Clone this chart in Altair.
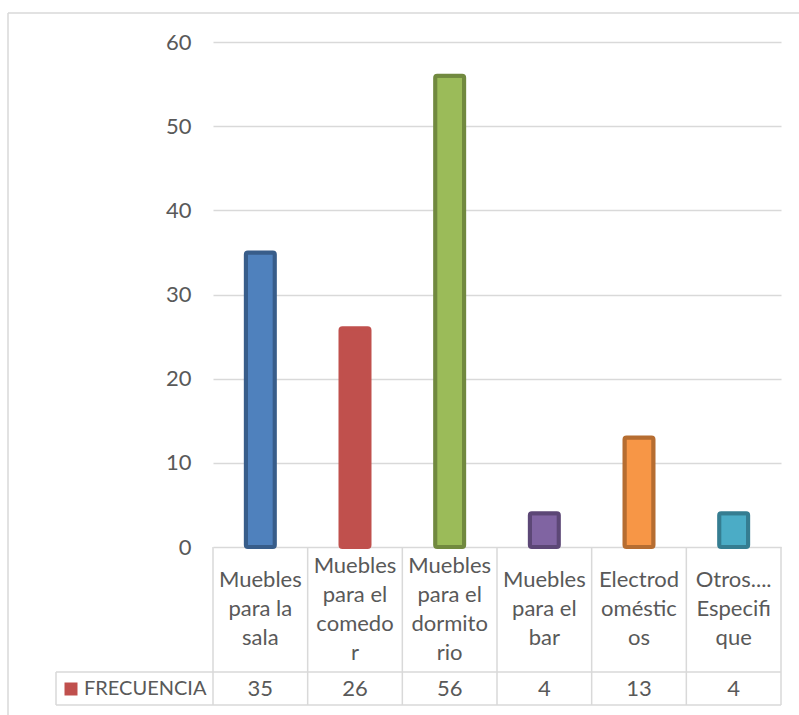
import altair as alt
import pandas as pd

# Survey answers: furniture / appliance categories and how often each was named
categories = [
    "Muebles para la sala",
    "Muebles para el comedor",
    "Muebles para el dormitorio",
    "Muebles para el bar",
    "Electrodomésticos",
    "Otros.... Especifique",
]
# Wrapped text shown in the data-table header cells
label_lines = [
    "Muebles\npara la\nsala",
    "Muebles\npara el\ncomedo\nr",
    "Muebles\npara el\ndormito\nrio",
    "Muebles\npara el\nbar",
    "Electrod\noméstic\nos",
    "Otros....\nEspecifi\nque",
]
frecuencia = [35, 26, 56, 4, 13, 4]
series_name = "FRECUENCIA"

# Office-style palette: fill and darker outline per bar
fill_colors = ["#4F81BD", "#C0504D", "#9BBB59", "#8064A2", "#F79646", "#4BACC6"]
stroke_colors = ["#385D8A", "#C0504D", "#71893F", "#5C4776", "#B66D31", "#357D91"]

W, H = 568, 505
FONT = "Lato"
TXT = "#595959"
GRID = "#D9D9D9"
LINE_H = 29
HEADER_MID = H + 62  # vertical centre of the header row of the table

df = pd.DataFrame({"cat": categories, "label": label_lines, "value": frecuencia})
last = pd.DataFrame({"cat": [categories[-1]]})

x_scale = alt.Scale(domain=categories, paddingInner=0, paddingOuter=0)
x_enc = alt.X("cat:N", scale=x_scale, axis=None, sort=categories)

bars = alt.Chart(df).mark_bar(size=29, strokeWidth=4, cornerRadius=2).encode(
    x=x_enc,
    y=alt.Y(
        "value:Q",
        scale=alt.Scale(domain=[0, 60]),
        axis=alt.Axis(
            values=[0, 10, 20, 30, 40, 50, 60],
            title=None,
            domain=False,
            ticks=False,
            labelFont=FONT,
            labelFontSize=22,
            labelColor=TXT,
            labelPadding=22,
            grid=True,
            gridColor=GRID,
            gridWidth=1.3,
        ),
    ),
    fill=alt.Fill("cat:N", scale=alt.Scale(domain=categories, range=fill_colors), legend=None),
    stroke=alt.Stroke("cat:N", scale=alt.Scale(domain=categories, range=stroke_colors), legend=None),
)

# Data table grid: column separators at each band start, plus the closing line
vlines = alt.Chart(df).mark_rule(color=GRID, strokeWidth=1.5).encode(
    x=alt.X("cat:N", scale=x_scale, axis=None, sort=categories, bandPosition=0),
    y=alt.value(H),
    y2=alt.value(H + 158),
)
vline_end = alt.Chart(last).mark_rule(color=GRID, strokeWidth=1.5).encode(
    x=alt.X("cat:N", scale=x_scale, axis=None, sort=categories, bandPosition=1),
    y=alt.value(H),
    y2=alt.value(H + 158),
)
hline_mid = alt.Chart(df.head(1)).mark_rule(color=GRID, strokeWidth=1.5).encode(
    x=alt.value(-157), x2=alt.value(W), y=alt.value(H + 125)
)
hline_bot = alt.Chart(df.head(1)).mark_rule(color=GRID, strokeWidth=1.5).encode(
    x=alt.value(-157), x2=alt.value(W), y=alt.value(H + 158)
)
vline_key = alt.Chart(df.head(1)).mark_rule(color=GRID, strokeWidth=1.5).encode(
    x=alt.value(-157), y=alt.value(H + 125), y2=alt.value(H + 158)
)

# Outer chart frame (top and left edges)
frame_top = alt.Chart(df.head(1)).mark_rule(color=GRID, strokeWidth=1.5).encode(
    x=alt.value(-205), x2=alt.value(700), y=alt.value(-29)
)
frame_left = alt.Chart(df.head(1)).mark_rule(color=GRID, strokeWidth=1.5).encode(
    x=alt.value(-205), y=alt.value(-29), y2=alt.value(700)
)

# Header labels: centre each wrapped block vertically inside its cell
header_text = (
    alt.Chart(df)
    .transform_calculate(nlines="length(split(datum.label, '\\n'))")
    .transform_calculate(ty=f"{HEADER_MID} - (datum.nlines - 1) * {LINE_H / 2}")
    .mark_text(
        font=FONT, fontSize=22, color=TXT, lineBreak="\n", lineHeight=LINE_H, baseline="middle"
    )
    .encode(x=x_enc, y=alt.Y("ty:Q", scale=None), text="label:N")
)

value_text = alt.Chart(df).mark_text(
    font=FONT, fontSize=22, color=TXT, baseline="middle"
).encode(x=x_enc, y=alt.value(H + 142), text="value:Q")

key_df = pd.DataFrame({"name": [series_name]})
key_square = alt.Chart(key_df).mark_square(size=169, opacity=1, color=fill_colors[1]).encode(
    x=alt.value(-142), y=alt.value(H + 142)
)
key_text = alt.Chart(key_df).mark_text(
    font=FONT, fontSize=20, color=TXT, align="left", baseline="middle"
).encode(x=alt.value(-129), y=alt.value(H + 142), text="name:N")

chart = (
    alt.layer(
        frame_top, frame_left, vlines, vline_end, hline_mid, hline_bot, vline_key,
        bars, header_text, value_text, key_square, key_text,
    )
    .properties(
        width=W,
        height=H,
        autosize=alt.AutoSizeParams(type="none"),
        padding={"left": 213, "top": 42, "right": 18, "bottom": 168},
        background="white",
    )
    .configure_view(strokeWidth=0)
)

chart.save("out.html", embed_options={"renderer": "svg", "actions": False})
